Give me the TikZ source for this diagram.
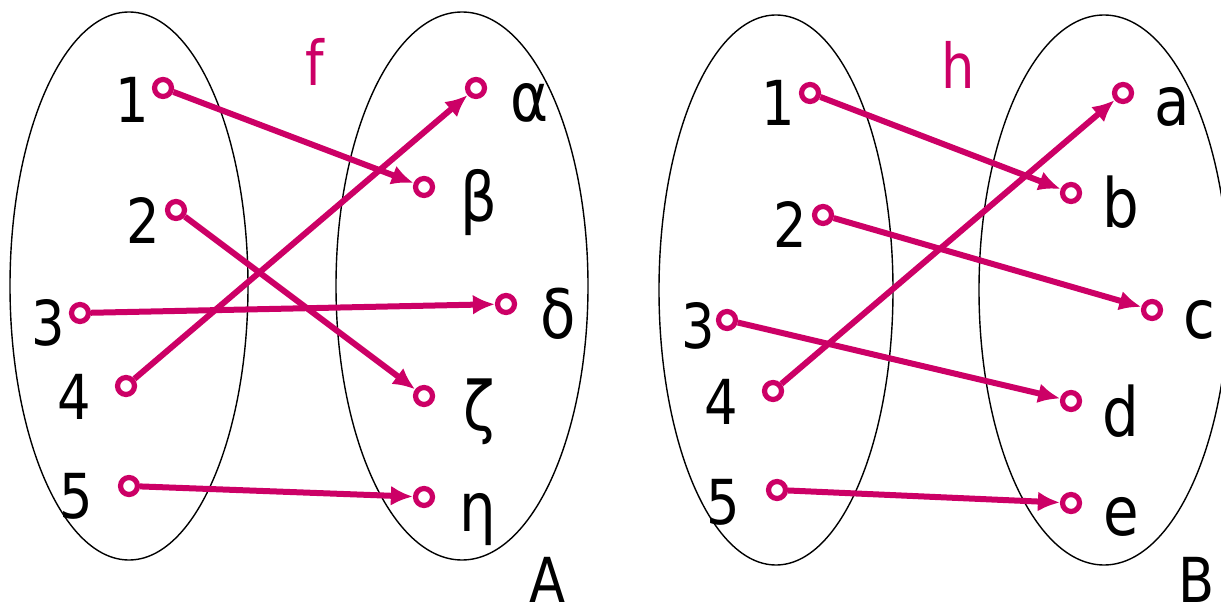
\documentclass[tikz,border=0pt]{standalone}
\usepackage{fontspec}
\setmainfont[FakeStretch=0.85]{DejaVu Sans}
\usetikzlibrary{shapes.geometric,arrows.meta}
\definecolor{mag}{RGB}{204,0,102}
\begin{document}
\begin{tikzpicture}[x=1pt,y=-1pt,
  setell/.style={draw=black,line width=1.4pt,ellipse,inner sep=0pt},
  dot/.style={circle,draw=mag,line width=5.2pt,minimum size=17pt,inner sep=0pt},
  lab/.style={inner sep=0pt,font=\fontsize{62}{62}\selectfont},
  glab/.style={inner sep=0pt,font=\fontsize{68}{68}\selectfont},
  fname/.style={inner sep=0pt,text=mag,font=\fontsize{62}{62}\selectfont},
  maparrow/.style={draw=mag,line width=6pt,-{Latex[length=22pt,width=20pt]},shorten >=0pt}]
\useasboundingbox (0,0) rectangle (1221,612);
% sets
\node[setell,minimum width=238pt,minimum height=548pt] (LA) at (129,286) {};
\node[setell,minimum width=252pt,minimum height=548pt] (RA) at (462,286) {};
\node[setell,minimum width=234pt,minimum height=550pt] (LB) at (776,290) {};
\node[setell,minimum width=250pt,minimum height=550pt] (RB) at (1104,290) {};
% dots left figure
\node[dot] (f1) at (163,88) {};
\node[dot] (f2) at (176,210) {};
\node[dot] (f3) at (80,313) {};
\node[dot] (f4) at (126,386) {};
\node[dot] (f5) at (129,486) {};
\node[dot] (fa) at (476,88) {};
\node[dot] (fb) at (424,187) {};
\node[dot] (fd) at (506,304) {};
\node[dot] (fz) at (424,396) {};
\node[dot] (fe) at (424,497) {};
% dots right figure
\node[dot] (h1) at (810,93) {};
\node[dot] (h2) at (823,215) {};
\node[dot] (h3) at (727,320) {};
\node[dot] (h4) at (773,391) {};
\node[dot] (h5) at (777,490) {};
\node[dot] (ha) at (1123,93) {};
\node[dot] (hb) at (1071,193) {};
\node[dot] (hc) at (1152,310) {};
\node[dot] (hd) at (1071,401) {};
\node[dot] (he) at (1071,503) {};
% arrows f
\draw[maparrow] (f1) -- (fb);
\draw[maparrow] (f2) -- (fz);
\draw[maparrow] (f3) -- (fd);
\draw[maparrow] (f4) -- (fa);
\draw[maparrow] (f5) -- (fe);
% arrows h
\draw[maparrow] (h1) -- (hb);
\draw[maparrow] (h2) -- (hc);
\draw[maparrow] (h3) -- (hd);
\draw[maparrow] (h4) -- (ha);
\draw[maparrow] (h5) -- (he);
% labels left
\node[lab] (l1) at (132,100) {1};
\node[lab] (l2) at (143,220) {2};
\node[lab] (l3) at (48,323) {3};
\node[lab] (l4) at (74,397) {4};
\node[lab] (l5) at (76,496) {5};
\node[glab] (la) at (530,103) {α};
\node[glab] (lb) at (479,203) {β};
\node[glab] (ld) at (558,314) {δ};
\node[glab] (lz) at (479,412) {ζ};
\node[glab] (le) at (478,520) {η};
\node[lab] (lA) at (548,580) {A};
\node[fname] (ff) at (315,62) {f};
% labels right
\node[lab] (m1) at (778,103) {1};
\node[lab] (m2) at (790,224) {2};
\node[lab] (m3) at (698,326) {3};
\node[lab] (m4) at (721,402) {4};
\node[lab] (m5) at (723,502) {5};
\node[glab] (ma) at (1172,107) {a};
\node[glab] (mb) at (1121,202) {b};
\node[glab] (mc) at (1199,320) {c};
\node[glab] (md) at (1121,411) {d};
\node[glab] (me) at (1121,517) {e};
\node[lab] (mB) at (1197,580) {B};
\node[fname] (hh) at (958,65) {h};
\end{tikzpicture}
\end{document}
